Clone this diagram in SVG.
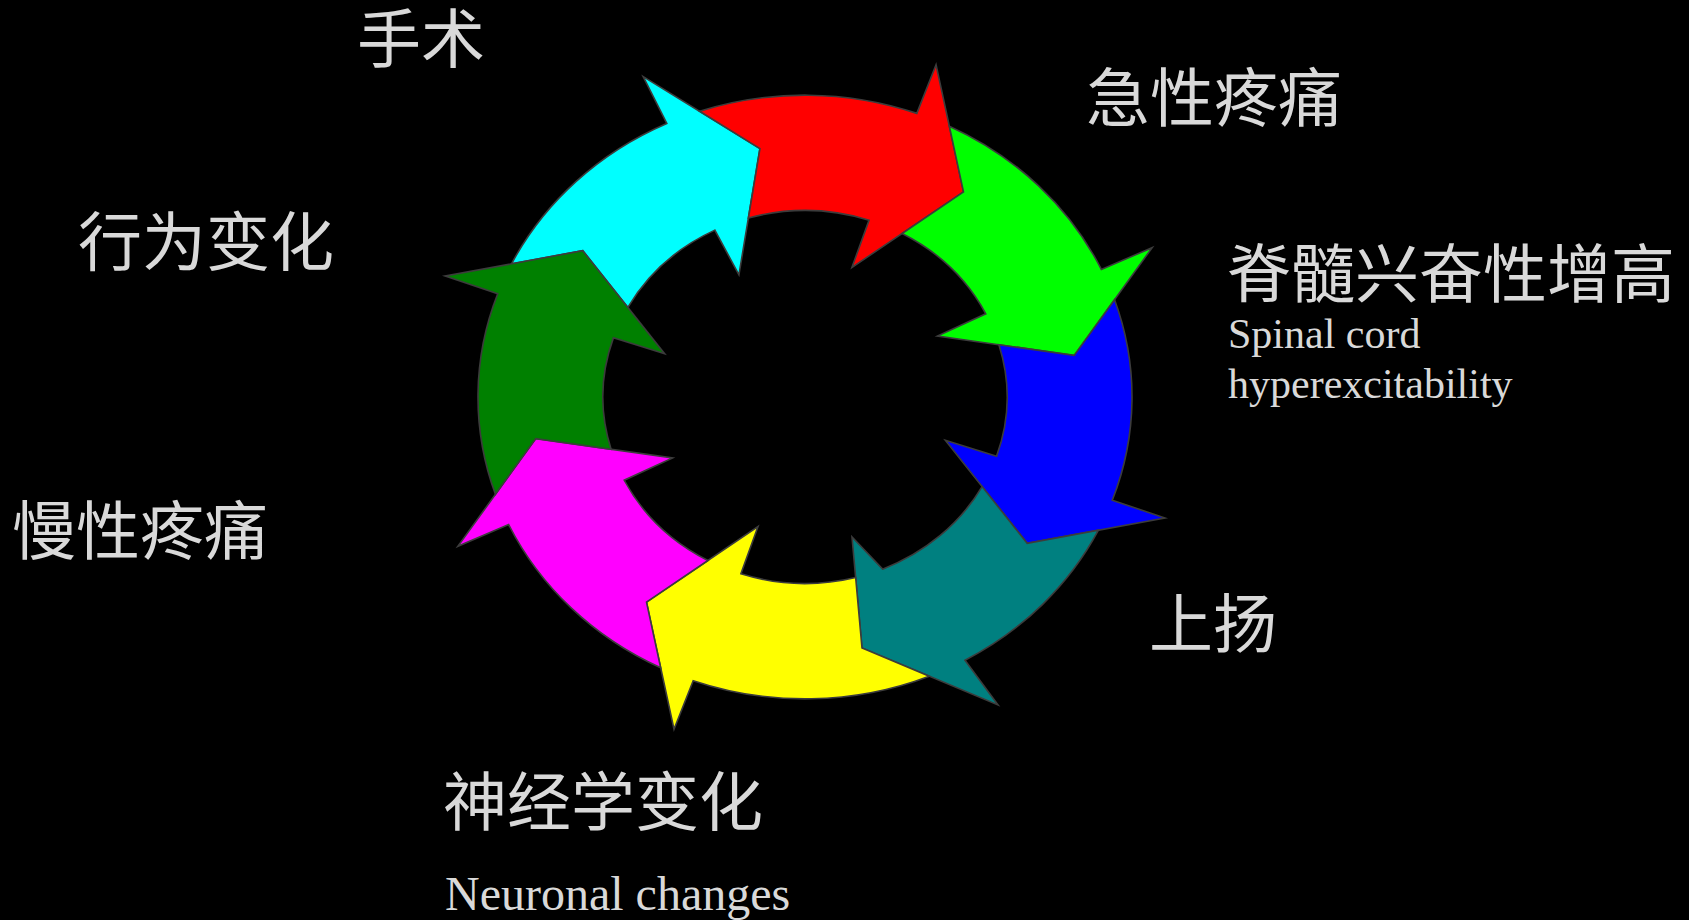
<svg xmlns="http://www.w3.org/2000/svg" xmlns:xlink="http://www.w3.org/1999/xlink" width="1689" height="920" viewBox="0 0 1689 920">
<style>
.lbl{fill:#D9D9D9;font-family:"Liberation Serif","Noto Sans CJK SC",serif;}
.zh{font-size:64px;}
.en{font-size:42px;}
.arr{stroke:#3C3C3C;stroke-width:1.6;stroke-linejoin:miter;}
</style>
<defs>
<path id="arrow" vector-effect="non-scaling-stroke" d="M190.8,-265.6 A327,327 0 0 1 315.1,-87.4 L369.1,-102.3 L273,0 L141.5,-43.3 L193.2,-59.1 A202,202 0 0 0 125.0,-158.7 L193.0,-193.0 Z"/>
</defs>
<rect x="0" y="0" width="1689" height="920" fill="#000000"/>
<g id="cycle-arrows">
<g id="arrow-cyan"><use xlink:href="#arrow" class="arr" fill="#00FFFF" transform="translate(805,397) scale(1,0.923) rotate(-99.5)"/></g>
<g id="arrow-red"><use xlink:href="#arrow" class="arr" fill="#FF0000" transform="translate(805,397) scale(1,0.923) rotate(-54.5)"/></g>
<g id="arrow-green"><use xlink:href="#arrow" class="arr" fill="#00FF00" transform="translate(805,397) scale(1,0.923) rotate(-9.5)"/></g>
<g id="arrow-blue"><use xlink:href="#arrow" class="arr" fill="#0000FF" transform="translate(805,397) scale(1,0.923) rotate(35.5)"/></g>
<g id="arrow-teal" transform="translate(805,397) scale(1,0.923)"><path class="arr" vector-effect="non-scaling-stroke" fill="#008080" d="M293.4,144.3 A327,327 0 0 1 160.0,285.2 L193,333.7 L57,271.9 L47,151.7 L77.6,186.5 A202,202 0 0 0 177.1,97.1 L222.2,158.5 Z"/></g>
<g id="arrow-yellow" transform="translate(805,397) scale(1,0.923)"><path class="arr" vector-effect="non-scaling-stroke" fill="#FFFF00" d="M124.3,302.5 A327,327 0 0 1 -111.8,307.3 L-131.0,359.9 L-158.5,222.2 L-47.0,140.3 L-64.1,191.6 A202,202 0 0 0 50.65,195.55 L57,271.9 Z"/></g>
<g id="arrow-magenta"><use xlink:href="#arrow" class="arr" fill="#FF00FF" transform="translate(805,397) scale(1,0.923) rotate(170.5)"/></g>
<g id="arrow-darkgreen"><use xlink:href="#arrow" class="arr" fill="#008000" transform="translate(805,397) scale(1,0.923) rotate(215.5)"/></g>
</g>
<g id="label-surgery"><text class="lbl zh" x="357" y="62">手术</text></g>
<g id="label-acute-pain"><text class="lbl zh" x="1086" y="121">急性疼痛</text></g>
<g id="label-spinal"><text class="lbl zh" x="1227" y="297">脊髓兴奋性增高</text>
<text class="lbl en" x="1228" y="348">Spinal cord</text>
<text class="lbl en" x="1228" y="398">hyperexcitability</text></g>
<g id="label-upregulation"><text class="lbl zh" x="1149" y="647">上扬</text></g>
<g id="label-neuronal"><text class="lbl zh" x="443" y="825">神经学变化</text>
<text class="lbl" style="font-size:48px" x="445" y="910">Neuronal changes</text></g>
<g id="label-chronic-pain"><text class="lbl zh" x="12" y="554">慢性疼痛</text></g>
<g id="label-behavior"><text class="lbl zh" x="78" y="265">行为变化</text></g>
</svg>
